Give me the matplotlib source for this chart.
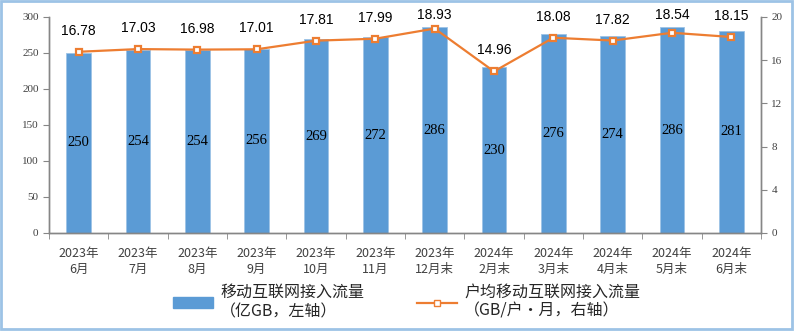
import numpy as np
import matplotlib
matplotlib.use('Agg')
import matplotlib.pyplot as plt
from matplotlib.patches import Rectangle
from matplotlib.lines import Line2D
from matplotlib.patches import Patch

plt.rcParams['font.family'] = ['Noto Sans CJK SC', 'DejaVu Sans']

# monthly mobile internet traffic
months = ['2023年\n6月', '2023年\n7月', '2023年\n8月', '2023年\n9月',
          '2023年\n10月', '2023年\n11月', '2023年\n12月末', '2024年\n2月末',
          '2024年\n3月末', '2024年\n4月末', '2024年\n5月末', '2024年\n6月末']
traffic = [250, 254, 254, 256, 269, 272, 286, 230, 276, 274, 286, 281]
per_user = [16.78, 17.03, 16.98, 17.01, 17.81, 17.99, 18.93, 14.96,
            18.08, 17.82, 18.54, 18.15]

bar_color = '#5B9BD5'
line_color = '#ED7D31'
axis_color = '#868686'
text_color = '#404040'

fig = plt.figure(figsize=(7.97, 3.33), dpi=100)
ax = fig.add_axes([49 / 797, 100 / 333, 712 / 797, 216 / 333])
ax2 = ax.twinx()

x = np.arange(len(months))
ax.bar(x, traffic, width=0.42, color=bar_color, edgecolor='#9DC3E6',
       linewidth=0.6, zorder=2)
for xi, v in zip(x, traffic):
    ax.text(xi, v / 2, str(v), ha='center', va='center', fontsize=10.5,
            family='Liberation Serif', color='black', zorder=3)

ax.set_xlim(-0.5, len(months) - 0.5)
ax.set_ylim(0, 300)
ax.set_yticks(range(0, 301, 50))
ax.set_xticks(x)
ax.set_xticklabels(months, fontsize=9, color=text_color, linespacing=1.3)
ax.set_xticks(np.arange(-0.5, len(months)), minor=True)
ax.tick_params(axis='x', which='major', length=0, pad=10)
ax.tick_params(axis='x', which='minor', length=4, color=axis_color,
               direction='out')
ax.tick_params(axis='y', length=4, color=axis_color, labelsize=8,
               labelcolor=text_color)
for lab in ax.get_yticklabels():
    lab.set_family('Liberation Serif')

ax2.plot(x, per_user, color=line_color, linewidth=1.6, marker='s',
         markersize=5, markerfacecolor='white', markeredgecolor=line_color,
         markeredgewidth=1.6, zorder=4)
for xi, v in zip(x, per_user):
    ax2.text(xi, min(v + 1.94, 20.2), f'{v:.2f}', ha='center', va='center',
             fontsize=10, family='Liberation Sans', color='black',
             clip_on=False)
ax2.set_ylim(0, 20)
ax2.set_yticks(range(0, 21, 4))
ax2.tick_params(axis='y', length=4, color=axis_color, labelsize=8,
                labelcolor=text_color)
for lab in ax2.get_yticklabels():
    lab.set_family('Liberation Serif')

for a in (ax, ax2):
    a.spines['top'].set_visible(False)
    for s in ('left', 'right', 'bottom'):
        a.spines[s].set_color(axis_color)
        a.spines[s].set_linewidth(1.0)
ax2.set_zorder(ax.get_zorder() + 1)
ax2.patch.set_visible(False)

# two legend entries, each placed on its own
bar_handle = Patch(facecolor=bar_color, edgecolor=bar_color)
line_handle = Line2D([], [], color=line_color, linewidth=1.6, marker='s',
                     markersize=5, markerfacecolor='white',
                     markeredgecolor=line_color)
legend_kw = dict(loc='center left', frameon=False, fontsize=11.5,
                 borderpad=0, borderaxespad=0, handlelength=2.5,
                 handleheight=0.7, handletextpad=0.45,
                 labelcolor='#262626')
fig.legend([bar_handle], ['移动互联网接入流量\n（亿GB，左轴）'],
           bbox_to_anchor=(173 / 797, 0.094), **legend_kw)
fig.legend([line_handle], ['户均移动互联网接入流量\n（GB/户·月，右轴）'],
           bbox_to_anchor=(417 / 797, 0.094), **legend_kw)

# light blue frame round the whole chart
fig.patches.append(Rectangle((1 / 797, 4 / 333), 791 / 797, 328 / 333,
                             transform=fig.transFigure, fill=False,
                             edgecolor='#9DC3E6', linewidth=2))

fig.savefig('out.png', dpi=100)
